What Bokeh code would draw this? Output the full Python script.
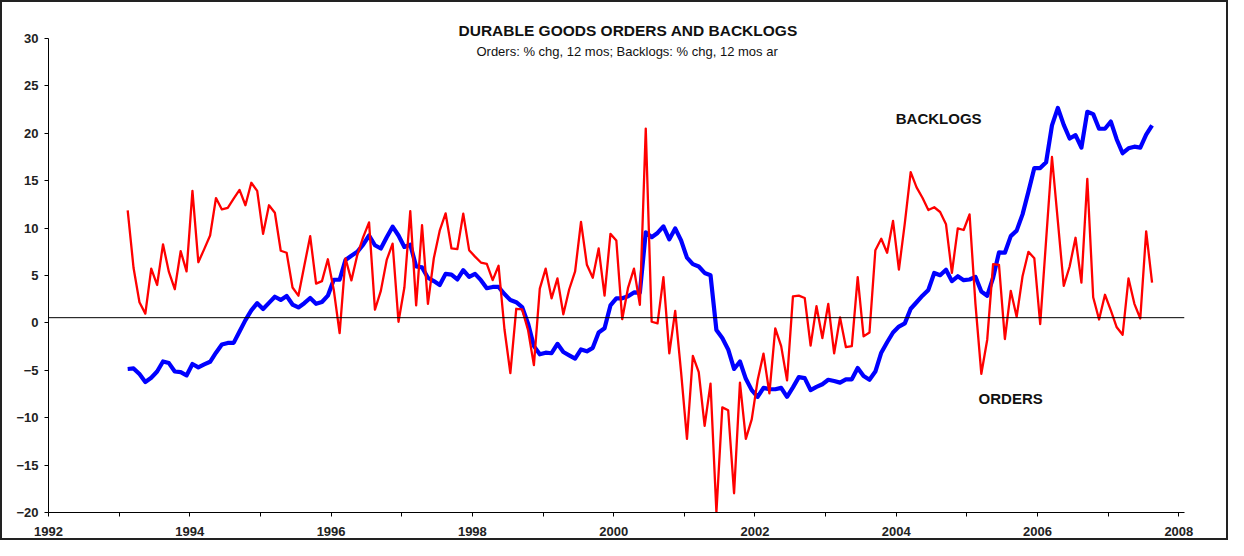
import pandas as pd
from bokeh.plotting import figure
from bokeh.models import Range1d, Span, Label, FixedTicker
from bokeh.embed import file_html
from bokeh.resources import INLINE

# ---- data (monthly, Feb 1993 .. Aug 2007) ----
start_month = "1993-02"
orders = [
    11.87, 5.79, 2.18, 0.98, 5.72, 4.0, 8.29, 5.37, 3.55, 7.57,
    5.44, 13.92, 6.40, 7.78, 9.22, 13.17, 11.97, 12.14, 13.10, 14.03,
    12.41, 14.78, 13.92, 9.39, 12.41, 11.62, 7.61, 7.40, 3.73, 2.87,
    6.03, 9.15, 4.14, 4.41, 6.71, 3.5, -1.08, 6.81, 4.48, 7.16,
    9.05, 10.6, 1.39, 3.38, 6.64, 8.36, 0.12, 3.73, 11.8, 1.84,
    10.3, 2.01, 6.82, 9.73, 11.56, 7.85, 7.78, 11.52, 7.67, 6.99,
    6.37, 6.23, 4.51, 6.03, -0.67, -5.30, 1.49, 1.42, -0.74, -4.45,
    3.62, 5.72, 2.59, 4.69, 0.91, 3.55, 5.44, 10.66, 6.13, 4.76,
    7.85, 2.87, 9.39, 8.70, 0.39, 3.73, 5.72, 1.91, 20.5, 0.12,
    -0.05, 4.82, -3.21, 1.26, -5.2, -12.24, -3.48, -5.2, -10.87, -6.40,
    -19.97, -8.91, -9.22, -17.97, -6.30, -12.24, -10.18, -6.06, -3.24, -7.43,
    -0.57, -2.45, -6.06, 2.8, 2.87, 2.63, -2.39, 1.77, -1.6, 2.01,
    -3.21, 0.57, -2.56, -2.45, 4.82, -1.42, -1.01, 7.67, 8.88, 7.40,
    10.76, 5.61, 10.5, 15.9, 14.3, 13.2, 11.9, 12.2, 11.7, 10.4,
    5.28, 9.97, 9.8, 11.45, 2.0, -5.37, -1.77, 6.20, 6.13, -1.70,
    3.38, 0.64, 4.92, 7.50, 6.82, -0.12, 8.7, 17.5, 10.7, 3.9,
    5.95, 8.98, 4.24, 15.2, 2.7, 0.36, 2.97, 1.32, -0.46, -1.25,
    4.69, 2.01, 0.46, 9.66, 4.24,
]
backlogs = [
    -4.86, -4.8, -5.4, -6.23, -5.79, -5.13, -4.07, -4.24, -5.13, -5.2,
    -5.54, -4.34, -4.69, -4.38, -4.1, -3.14, -2.28, -2.11, -2.11, -0.91,
    0.29, 1.32, 2.08, 1.46, 2.11, 2.76, 2.42, 2.83, 1.94, 1.63,
    2.08, 2.63, 2.01, 2.2, 2.87, 4.55, 4.55, 6.64, 7.09, 7.50,
    8.26, 9.22, 8.19, 7.85, 9.04, 10.15, 9.22, 8.01, 8.26, 5.95,
    5.85, 4.76, 4.41, 4.0, 5.17, 5.10, 4.58, 5.56, 4.86, 5.17,
    4.51, 3.66, 3.79, 3.79, 3.04, 2.42, 2.18, 1.67, -0.05, -2.45,
    -3.31, -3.14, -3.2, -2.21, -3.07, -3.42, -3.76, -2.8, -3.0, -2.63,
    -1.01, -0.57, 1.84, 2.59, 2.59, 2.8, 3.21, 3.2, 9.56, 9.04,
    9.49, 10.18, 8.81, 9.97, 8.70, 6.88, 6.2, 5.95, 5.27, 5.03,
    -0.74, -1.6, -2.8, -4.86, -4.07, -5.9, -7.09, -7.8, -6.85, -6.99,
    -7.0, -6.85, -7.8, -6.8, -5.72, -5.82, -7.09, -6.75, -6.47, -6.0,
    -6.13, -6.30, -5.95, -5.95, -4.76, -5.61, -6.0, -5.13, -3.14, -2.04,
    -1.01, -0.39, -0.05, 1.49, 2.18, 2.87, 3.48, 5.27, 5.03, 5.61,
    4.41, 4.92, 4.51, 4.58, 4.86, 3.31, 2.87, 4.76, 7.44, 7.40,
    9.15, 9.73, 11.45, 13.85, 16.33, 16.33, 16.94, 20.83, 22.68, 20.89,
    19.45, 19.8, 18.49, 22.27, 22.02, 20.48, 20.48, 21.24, 19.35, 17.9,
    18.42, 18.59, 18.49, 19.86, 20.83,
]
reference_level = 0.55
y_ticks = [-20, -15, -10, -5, 0, 5, 10, 15, 20, 25, 30]
x_ticks = list(range(1992, 2009))
x_labels = {y: (str(y) if y % 2 == 0 else "") for y in x_ticks}

dates = pd.period_range(start=start_month, periods=len(orders), freq="M")
t = [d.year + (d.month - 0.55) / 12 for d in dates]

FONT = "Liberation Sans"

p = figure(width=1228, height=540, output_backend="svg", toolbar_location=None,
           x_range=Range1d(1992, 2008.08), y_range=Range1d(-20, 30),
           min_border_left=46, min_border_right=46, min_border_top=36, min_border_bottom=30,
           title="DURABLE GOODS ORDERS AND BACKLOGS")
p.styles = {"border": "2px solid #222", "box-sizing": "border-box"}
p.outline_line_color = None
p.xgrid.visible = False
p.ygrid.visible = False
p.background_fill_color = "white"
p.border_fill_color = "white"

p.title.align = "left"
p.title.text_font = FONT
p.title.text_font_style = "bold"
p.title.text_font_size = "15.5px"
p.title.text_color = "#111111"
p.title.standoff = 0
p.title.offset = 410

for ax in (p.xaxis[0], p.yaxis[0]):
    ax.axis_line_color = "black"
    ax.axis_line_width = 1
    ax.major_tick_line_color = "black"
    ax.major_tick_in = 0
    ax.major_tick_out = 4
    ax.minor_tick_line_color = None
    ax.major_label_text_font = FONT
    ax.major_label_text_font_style = "bold"
    ax.major_label_text_font_size = "13px"
    ax.major_label_text_color = "#222222"

p.yaxis[0].ticker = FixedTicker(ticks=y_ticks)
p.yaxis[0].major_label_standoff = 6
p.xaxis[0].ticker = FixedTicker(ticks=x_ticks)
p.xaxis[0].major_label_overrides = {y: s for y, s in x_labels.items()}
p.xaxis[0].major_label_standoff = 10

p.add_layout(Span(location=reference_level, dimension="width", line_color="black", line_width=1))

p.line(t, backlogs, line_color="#0000FF", line_width=4.2, line_join="round")
p.line(t, orders, line_color="#FF0000", line_width=2.3, line_join="round")

p.add_layout(Label(x=2000.19, y=28.6, text="Orders: % chg, 12 mos; Backlogs: % chg, 12 mos ar",
                   text_font=FONT, text_font_size="13px",
                   text_align="center", text_baseline="middle", text_color="#111111"))
p.add_layout(Label(x=2004.6, y=21.6, text="BACKLOGS",
                   text_font=FONT, text_font_style="bold", text_font_size="15px",
                   text_align="center", text_baseline="middle", text_color="#111111"))
p.add_layout(Label(x=2005.62, y=-7.95, text="ORDERS",
                   text_font=FONT, text_font_style="bold", text_font_size="15px",
                   text_align="center", text_baseline="middle", text_color="#111111"))

open("out.html", "w").write(file_html(p, INLINE))
